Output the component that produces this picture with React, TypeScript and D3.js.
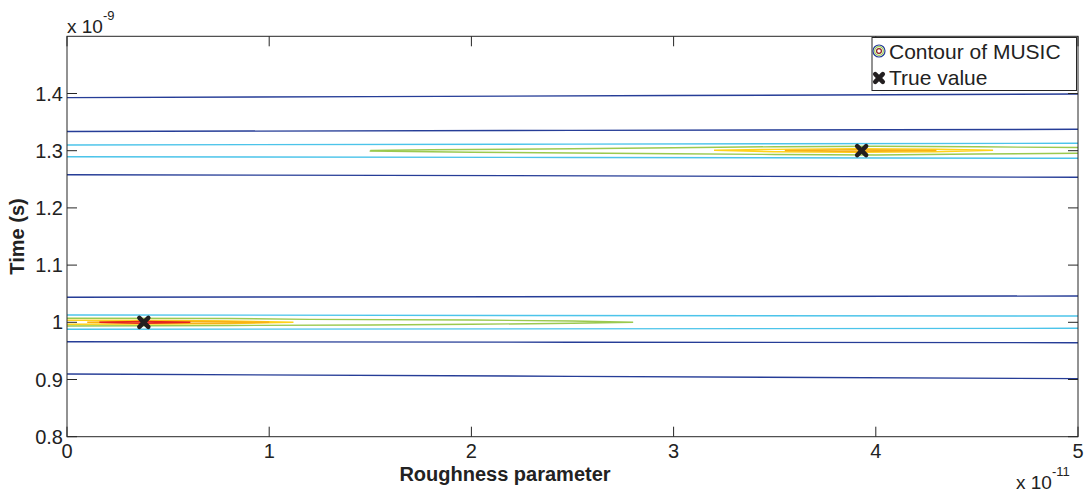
import React from "react";
import * as d3 from "d3";

// ---- data (x in units of 1e-11, y in units of 1e-9) ----
const xTicks = [0, 1, 2, 3, 4, 5];
const yTicks = [0.8, 0.9, 1.0, 1.1, 1.2, 1.3, 1.4];
const yTickLabels = ["0.8", "0.9", "1", "1.1", "1.2", "1.3", "1.4"];

type Pt = [number, number];

// level 1 (lowest) contours - open lines across the domain
const level1Lines: Pt[][] = [
  [[0, 1.3928], [1.5, 1.3945], [3, 1.3965], [5, 1.399]],
  [[0, 1.3336], [2.5, 1.3355], [5, 1.3374]],
  [[0, 1.2579], [2.2, 1.2565], [5, 1.2535]],
  [[0, 1.0437], [1, 1.0442], [3, 1.045], [5, 1.046]],
  [[0, 0.9661], [2.5, 0.9652], [5, 0.9643]],
  [[0, 0.9096], [2.5, 0.9055], [5, 0.9015]],
];
// level 2 contours
const level2Lines: Pt[][] = [
  [[0, 1.31], [2.5, 1.3115], [5, 1.3129]],
  [[0, 1.2895], [2.5, 1.2881], [5, 1.2867]],
  [[0, 1.0128], [5, 1.011]],
  [[0, 0.9878], [5, 0.9895]],
];
// level 3 contours
const level3Lines: Pt[][] = [
  [
    [1.5, 1.3003], [1.8, 1.3016], [2.5, 1.3035], [3.0, 1.3051], [3.5, 1.307],
    [4.0, 1.3077], [4.5, 1.3068], [5.0, 1.3056],
  ],
  [
    [5.0, 1.2955], [4.5, 1.2942], [4.0, 1.2925], [3.5, 1.2934], [3.0, 1.2946],
    [2.5, 1.296], [2.0, 1.2972], [1.5, 1.2995], [1.5, 1.3003],
  ],
  [
    [0, 1.007], [0.8, 1.0066], [1.2, 1.0052], [2.0, 1.004], [2.5, 1.0023], [2.8, 1.0],
    [2.5, 0.9983], [2.0, 0.9965], [1.5, 0.9953], [0.8, 0.9944], [0, 0.9935],
  ],
];
// level 4 contours
const level4Lines: Pt[][] = [
  [
    [3.2, 1.3009], [3.5, 1.3024], [3.9, 1.3033], [4.3, 1.3026], [4.58, 1.3007],
    [4.3, 1.2982], [3.9, 1.2974], [3.5, 1.2981], [3.2, 1.3009],
  ],
  [
    [0, 1.0035], [0.5, 1.0031], [0.8, 1.0023], [1.12, 1.0002],
    [0.8, 0.9979], [0.5, 0.997], [0, 0.9965],
  ],
];
// level 5 contours
const level5Lines: Pt[][] = [
  [[3.55, 1.3003], [3.9, 1.3019], [4.3, 1.3003], [3.9, 1.2985], [3.55, 1.3003]],
  [[0.1, 1.0], [0.4, 1.0019], [0.75, 1.0014], [1.0, 1.0], [0.75, 0.9984], [0.4, 0.9981], [0.1, 1.0]],
];
// level 6 (highest) contours
const level6Lines: Pt[][] = [
  [[0.16, 1.0], [0.38, 1.0017], [0.61, 1.0], [0.38, 0.9983], [0.16, 1.0]],
];

const trueX = [0.38, 3.93];
const trueY = [1.0, 1.3];

// ---- styles ----
const levelColors = ["#263d97", "#4cc4ea", "#9bc94f", "#ffd21a", "#f8b116", "#e5231f"];
const levels = [level1Lines, level2Lines, level3Lines, level4Lines, level5Lines, level6Lines];

const W = 1091;
const H = 494;
const L = 67, R = 1078, T = 36.3, B = 436.7;
const FONT = "'Liberation Sans', Arial, Helvetica, sans-serif";

export default function App() {
  const x = d3.scaleLinear().domain([0, 5]).range([L, R]);
  const y = d3.scaleLinear().domain([0.8, 1.5]).range([B, T]);
  const line = d3.line<Pt>().x((d) => x(d[0])).y((d) => y(d[1]));
  const tickLen = 10;
  const axisColor = "#262626";

  const xMark = (cx: number, cy: number, s: number, key: string) => (
    <g key={key} stroke="#231f20" strokeWidth={4.5} strokeLinecap="round">
      <line x1={cx - s} y1={cy - s} x2={cx + s} y2={cy + s} />
      <line x1={cx - s} y1={cy + s} x2={cx + s} y2={cy - s} />
    </g>
  );

  return (
    <svg
      width={W}
      height={H}
      style={{ position: "absolute", left: 0, top: 0, background: "#fff" }}
      fontFamily={FONT}
    >
      <rect x={0} y={0} width={W} height={H} fill="#fff" />
      <defs>
        <clipPath id="plot">
          <rect x={L} y={T} width={R - L} height={B - T} />
        </clipPath>
      </defs>

      {/* contours */}
      <g clipPath="url(#plot)" fill="none" strokeWidth={1.4}>
        {levels.map((lines, li) =>
          lines.map((pts, i) => (
            <path key={`c${li}-${i}`} d={line(pts) || ""} stroke={levelColors[li]} />
          ))
        )}
      </g>

      {/* true value markers */}
      {trueX.map((tx, i) => xMark(x(tx), y(trueY[i]), 4.5, `m${i}`))}

      {/* axes box */}
      <rect x={L} y={T} width={R - L} height={B - T} fill="none" stroke={axisColor} strokeWidth={1} />

      {/* x ticks */}
      {xTicks.map((t) => (
        <g key={`xt${t}`}>
          <line x1={x(t)} x2={x(t)} y1={B} y2={B - tickLen} stroke={axisColor} />
          <line x1={x(t)} x2={x(t)} y1={T} y2={T + tickLen} stroke={axisColor} />
          <text x={x(t)} y={B + 21} textAnchor="middle" fontSize={20} fill="#222">
            {t}
          </text>
        </g>
      ))}

      {/* y ticks */}
      {yTicks.map((t, i) => (
        <g key={`yt${t}`}>
          <line x1={L} x2={L + tickLen} y1={y(t)} y2={y(t)} stroke={axisColor} />
          <line x1={R} x2={R - tickLen} y1={y(t)} y2={y(t)} stroke={axisColor} />
          <text x={L - 4} y={y(t) + 7} textAnchor="end" fontSize={20} fill="#222">
            {yTickLabels[i]}
          </text>
        </g>
      ))}

      {/* exponent labels */}
      <text x={67} y={33} fontSize={19} fill="#222">
        x 10
        <tspan dy={-13} fontSize={13}>-9</tspan>
      </text>
      <text x={1016} y={489} fontSize={19} fill="#222">
        x 10
        <tspan dy={-13} fontSize={13}>-11</tspan>
      </text>

      {/* axis labels */}
      <text x={505} y={481} textAnchor="middle" fontSize={20} fontWeight="bold" fill="#222">
        Roughness parameter
      </text>
      <text
        transform={`translate(24,${(T + B) / 2}) rotate(-90)`}
        textAnchor="middle"
        fontSize={20}
        fontWeight="bold"
        fill="#222"
      >
        Time (s)
      </text>

      {/* legend */}
      <g>
        <rect x={872} y={37.5} width={204.5} height={53} fill="#fff" stroke={axisColor} strokeWidth={1} />
        <circle cx={879} cy={51} r={6} fill="none" stroke={levelColors[0]} strokeWidth={1.2} />
        <circle cx={879} cy={51} r={4.3} fill="none" stroke={levelColors[2]} strokeWidth={1.2} />
        <circle cx={879} cy={51} r={2.4} fill="none" stroke="#8e1b1b" strokeWidth={1.2} />
        <text x={889} y={59} fontSize={21} fill="#222">
          Contour of MUSIC
        </text>
        {xMark(879, 78, 3.8, "legm")}
        <text x={889} y={85} fontSize={21} fill="#222">
          True value
        </text>
      </g>
    </svg>
  );
}
